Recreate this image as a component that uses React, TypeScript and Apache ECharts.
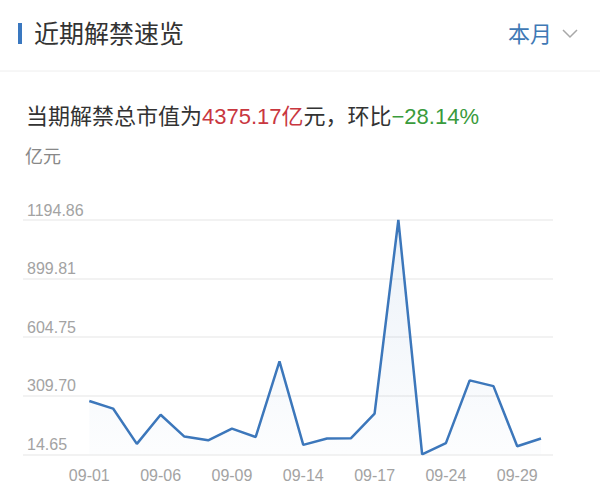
import * as echarts from 'echarts';
import { useEffect, useRef } from 'react';

const dates = [
  '09-01', '09-02', '09-03', '09-06', '09-07', '09-08', '09-09', '09-10', '09-13', '09-14',
  '09-15', '09-16', '09-17', '09-22', '09-23', '09-24', '09-27', '09-28', '09-29', '09-30',
];
const unlockValues = [
  283, 245, 67, 214, 104, 85, 144, 102, 483, 62,
  94, 95, 220, 1194.86, 14.65, 71, 387, 358, 55, 94,
];
const yTicks = [14.65, 309.7, 604.75, 899.81, 1194.86];

const title = '近期解禁速览';
const periodLabel = '本月';
const totalValue = '4375.17亿';
const changeValue = '−28.14%';
const unitLabel = '亿元';

const fontFamily = '"Liberation Sans", Arial, "Noto Sans CJK SC", sans-serif';
const lineColor = '#3c77bb';

function buildOption() {
  const yMin = yTicks[0];
  const yMax = yTicks[yTicks.length - 1];
  const gridTop = 220;
  const gridBottom = 45.7;
  const sub = { fontSize: 22, fontWeight: 'normal', fontFamily };
  return {
    animation: false,
    backgroundColor: '#fff',
    textStyle: { fontFamily },
    title: {
      left: 21,
      top: 100,
      text: `{a|当期解禁总市值为}{b|${totalValue}}{a|元，环比}{c|${changeValue}}`,
      textStyle: {
        fontWeight: 'normal',
        rich: {
          a: { ...sub, color: '#333' },
          b: { ...sub, color: '#c9373f' },
          c: { ...sub, color: '#3a9b3c' },
        },
      },
    },
    graphic: [
      { type: 'rect', shape: { x: 18, y: 23, width: 4, height: 21 }, style: { fill: '#3a78c0' } },
      {
        type: 'text',
        x: 34,
        y: 34,
        style: { text: title, fontSize: 25, fill: '#333', fontFamily, textVerticalAlign: 'middle' },
      },
      {
        type: 'text',
        x: 508,
        y: 34,
        style: { text: periodLabel, fontSize: 22, fill: '#3f79b5', fontFamily, textVerticalAlign: 'middle' },
      },
      {
        type: 'polyline',
        shape: { points: [[563, 30], [570, 37], [577, 30]] },
        style: { stroke: '#a8a8a8', lineWidth: 1.5, fill: 'none' },
      },
      {
        type: 'line',
        shape: { x1: 0, y1: 71, x2: 600, y2: 71 },
        style: { stroke: '#eeeeee', lineWidth: 1 },
      },
      {
        type: 'text',
        x: 25,
        y: 157,
        style: { text: unitLabel, fontSize: 18, fill: '#888', fontFamily, textVerticalAlign: 'middle' },
      },
    ],
    grid: [
      { left: 23, right: 47, top: gridTop, bottom: gridBottom },
      { left: 89.3, right: 59, top: gridTop, bottom: gridBottom },
    ],
    xAxis: [
      { type: 'category', gridIndex: 0, data: dates, show: false },
      {
        type: 'category',
        gridIndex: 1,
        data: dates,
        boundaryGap: false,
        axisLine: { show: false },
        axisTick: { show: false },
        axisLabel: { interval: 2, color: '#a3a3a3', fontSize: 16, margin: 13, fontFamily },
      },
    ],
    yAxis: [
      {
        type: 'value',
        gridIndex: 0,
        min: yMin,
        max: yMax,
        axisLine: { show: false },
        axisTick: { show: false, customValues: yTicks },
        splitLine: { lineStyle: { color: '#eeeeee', width: 1.5 } },
        axisLabel: {
          inside: true,
          margin: 4,
          customValues: yTicks,
          verticalAlign: 'bottom',
          padding: [0, 0, 2, 0],
          color: '#a3a3a3',
          fontSize: 16,
          fontFamily,
          formatter: (v: number) => v.toFixed(2),
        },
      },
      { type: 'value', gridIndex: 1, min: yMin, max: yMax, show: false, splitLine: { show: false } },
    ],
    series: [
      {
        type: 'line',
        xAxisIndex: 1,
        yAxisIndex: 1,
        data: unlockValues,
        symbol: 'none',
        lineStyle: { color: lineColor, width: 2.5 },
        areaStyle: {
          color: new echarts.graphic.LinearGradient(0, 0, 0, 1, [
            { offset: 0, color: 'rgba(60,119,187,0.14)' },
            { offset: 1, color: 'rgba(60,119,187,0.02)' },
          ]),
        },
      },
    ],
  };
}

export default function App() {
  const ref = useRef<HTMLDivElement | null>(null);

  useEffect(() => {
    if (!ref.current) return;
    const chart = echarts.init(ref.current, null, { renderer: 'svg' });
    chart.setOption(buildOption());
    return () => chart.dispose();
  }, []);

  return (
    <div
      ref={ref}
      style={{ position: 'absolute', left: 0, top: 0, width: 600, height: 500, background: '#fff' }}
    />
  );
}
